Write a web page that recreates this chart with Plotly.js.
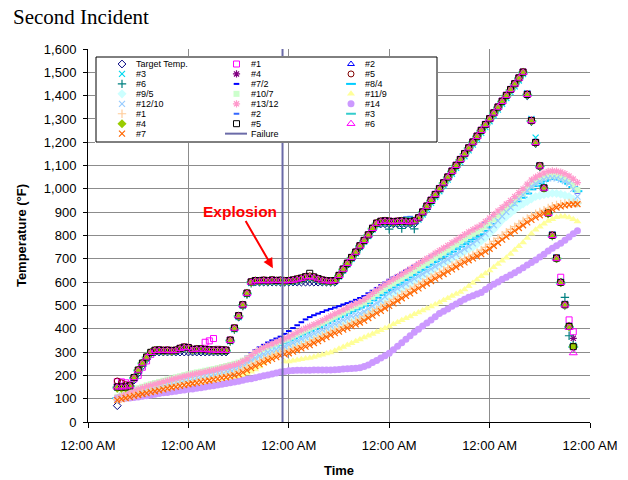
<!DOCTYPE html>
<html><head><meta charset="utf-8">
<script src="https://cdn.plot.ly/plotly-3.0.1.min.js"></script>
<style>html,body{margin:0;padding:0;background:#fff}#chart{width:628px;height:480px}</style>
</head><body><div id="chart"></div>
<script>
// ---------- time axis (hours since first midnight) ----------
const hours = [7,8,9,10,11,12,13,14,15,16,17,18,19,20,21,22,23,24,25,26,27,28,29,30,31,32,33,34,35,36,37,38,39,40,41,42,43,44,45,46,47,48,49,50,51,52,53,54,55,56,57,58,59,60,61,62,63,64,65,66,67,68,69,70,71,72,73,74,75,76,77,78,79,80,81,82,83,84,85,86,87,88,89,90,91,92,93,94,95,96,97,98,99,100,101,102,103,104,105,106,107,108,109,110,111,112,113,114,115,116,117];
const tickHours = [0,24,48,72,96,120];
const tickLabels = ['12:00 AM','12:00 AM','12:00 AM','12:00 AM','12:00 AM','12:00 AM'];
const failureTime = [46.5,46.5];
const failureTemp = [0,1600];

// ---------- furnace thermocouples (°F) ----------
const targetTemp = [70,150,150,152,180,210,240,270,295,300,
300,300,300,300,300,300,300,300,300,300,
300,300,300,300,300,300,300,350,400,450,
500,550,600,600,600,600,600,600,600,600,
600,600,600,600,600,600,600,600,600,600,
600,600,600,625,650,675,700,725,750,775,
800,825,850,850,850,850,850,850,850,850,
850,850,875,900,925,950,975,1000,1025,1050,
1075,1100,1125,1150,1175,1200,1225,1250,1275,1300,
1325,1350,1375,1400,1425,1450,1475,1500,1400,1290,
1195,1095,1000,895,800,700,600,500,410,320];
const tc1 = [173,172,168,160,185,200,235,262,290,306,
309,307,309,306,308,316,322,320,312,313,
314,342,348,358,312,309,308,352,404,457,
503,553,601,607,606,608,606,609,607,608,
606,607,609,613,617,623,625,622,615,609,
606,605,607,629,656,682,706,729,757,779,
803,832,853,861,864,862,860,862,864,861,
860,863,876,902,927,952,977,1002,1027,1052,
1077,1102,1127,1152,1177,1202,1227,1252,1277,1302,
1327,1352,1377,1402,1427,1452,1477,1502,1408,1295,
1200,1100,1005,898,803,705,621,505,438,387];
const tc2 = [150,150,150,156,192,224,254,280,300,308,
309,307,308,306,308,316,321,319,311,313,
313,311,310,309,308,309,308,351,403,456,
503,553,601,607,606,608,606,609,607,608,
606,607,609,613,617,623,625,622,615,609,
606,605,607,629,656,681,706,729,756,779,
803,831,853,861,863,861,859,861,863,861,
859,863,876,901,926,951,976,1001,1026,1051,
1076,1101,1126,1151,1176,1201,1226,1251,1276,1301,
1326,1351,1376,1401,1426,1451,1476,1501,1406,1293,
1199,1099,1004,896,801,703,599,503,410,325];
const tc3 = [148,148,149,153,188,220,250,276,296,305,
306,304,305,303,305,313,318,316,308,310,
310,308,307,306,305,306,305,346,398,450,
498,548,596,603,602,604,602,605,603,604,
602,603,605,609,613,619,621,618,611,605,
602,601,603,624,650,675,700,723,750,773,
797,825,847,856,858,856,854,856,858,856,
854,858,868,890,914,940,965,990,1015,1040,
1065,1090,1115,1140,1165,1190,1215,1240,1265,1290,
1315,1340,1365,1390,1415,1440,1465,1492,1410,1300,
1220,1100,1008,898,805,706,602,506,412,328];
const tc4 = [152,152,151,156,191,223,253,279,299,308,
309,307,308,306,308,316,321,319,311,313,
313,311,310,309,308,309,308,351,403,456,
503,553,601,607,606,608,606,609,607,608,
606,607,609,613,617,623,625,622,615,609,
606,605,607,629,656,681,706,729,756,779,
803,831,853,861,863,861,859,861,863,861,
859,863,876,901,926,951,976,1001,1026,1051,
1076,1101,1126,1151,1176,1201,1226,1251,1276,1301,
1326,1351,1376,1401,1426,1451,1476,1501,1406,1293,
1199,1099,1004,896,801,703,599,503,412,359];
const tc5 = [176,168,160,158,192,224,254,280,300,309,
310,308,309,307,309,317,322,320,312,314,
314,312,311,310,309,310,309,352,404,457,
504,554,602,608,607,609,607,610,608,609,
607,608,610,614,618,624,626,623,616,610,
607,606,608,630,657,682,707,730,757,780,
804,832,854,862,864,862,860,862,864,862,
860,864,877,902,927,952,977,1002,1027,1052,
1077,1102,1127,1152,1177,1202,1227,1252,1277,1302,
1327,1352,1377,1402,1427,1452,1477,1502,1407,1294,
1200,1100,1005,897,802,704,600,504,411,326];
const tc6 = [146,146,147,152,186,218,248,274,294,303,
304,302,303,301,303,311,316,314,306,308,
308,306,305,304,303,304,303,345,397,450,
497,547,595,601,600,602,600,603,601,602,
600,601,603,607,611,617,619,616,609,603,
600,599,601,622,648,674,698,722,748,771,
795,822,845,852,854,827,850,852,830,852,
850,828,866,888,912,938,962,988,1014,1040,
1066,1092,1118,1143,1168,1193,1218,1243,1268,1293,
1318,1343,1368,1393,1418,1443,1468,1494,1400,1288,
1194,1094,1000,893,798,700,597,535,370,330];

// ---------- specimen thermocouples (°F) ----------
const sp7_2 = [103,110,117,124,131,138,144,150,155,160,
165,170,175,180,185,189,194,198,202,206,
209,213,217,220,224,229,234,240,247,255,
267,280,295,308,320,331,341,350,358,366,
378,390,403,415,428,440,450,458,465,472,
479,485,491,497,504,510,516,524,532,540,
552,563,575,587,598,610,620,630,640,650,
660,670,680,690,700,710,721,731,742,752,
763,774,786,797,808,818,829,840,855,868,
882,896,910,925,940,956,972,988,1005,1022,
1036,1047,1055,1060,1061,1058,1052,1042,1030,1008,
984];
const sp8_4 = [102,108,114,120,126,132,138,143,148,153,
158,163,168,173,177,181,186,190,194,198,
202,206,210,213,217,221,225,230,236,242,
250,260,272,284,294,303,311,318,324,330,
339,348,357,366,375,383,391,399,407,415,
424,433,442,450,458,467,475,483,491,499,
510,522,533,544,555,566,577,588,598,609,
620,631,642,653,664,675,686,697,708,719,
730,741,752,763,774,784,795,805,820,835,
850,865,880,896,912,928,945,962,980,998,
1012,1024,1034,1042,1045,1044,1040,1032,1022,1008,
990];
const sp9_5 = [100,105,110,115,120,125,130,135,140,145,
150,155,159,163,167,171,175,179,183,187,
191,195,199,203,207,211,215,220,225,231,
239,248,259,270,279,286,293,299,304,309,
316,323,330,337,344,351,358,365,372,379,
386,394,401,408,416,424,432,440,448,456,
468,480,492,504,520,537,548,559,570,581,
592,603,614,625,636,647,658,669,680,690,
700,710,720,730,740,750,763,776,790,808,
826,846,866,881,896,910,924,935,946,957,
967,971,975,978,981,980,977,972,967,955,
938];
const sp10_7 = [108,116,124,131,138,145,151,157,162,167,
172,177,182,187,192,196,201,205,209,213,
216,220,224,227,231,236,240,245,250,255,
263,272,284,296,305,313,321,328,335,342,
350,357,366,375,384,392,400,408,416,424,
433,442,451,460,469,478,488,496,504,512,
524,537,550,562,573,584,595,606,616,627,
638,649,661,672,683,694,706,717,728,739,
751,762,774,786,797,807,816,826,840,855,
870,885,900,915,930,947,964,980,998,1015,
1028,1040,1048,1055,1058,1056,1050,1042,1030,1012,
995];
const sp11_9 = [98,100,102,104,107,110,113,116,119,122,
125,128,131,135,138,142,145,148,151,154,
157,160,164,167,171,174,178,182,187,192,
200,208,216,225,238,252,266,280,295,310,
259,260,263,266,269,272,275,279,284,289,
294,298,306,314,322,330,338,346,354,362,
370,378,386,394,402,410,419,428,436,445,
453,462,470,478,487,495,504,513,522,531,
540,549,558,568,582,596,610,625,637,650,
664,678,692,705,721,738,754,770,789,807,
825,838,850,862,870,878,882,882,877,870,
860];
const sp12_10 = [100,106,112,118,124,129,134,139,144,149,
154,159,163,167,171,175,179,183,187,191,
195,199,203,207,211,215,219,224,229,235,
243,252,263,274,283,291,298,304,310,316,
324,332,340,348,356,364,372,380,388,396,
404,412,421,429,438,446,455,460,466,474,
486,498,510,521,537,552,562,572,583,593,
604,614,625,635,646,656,667,677,688,698,
709,720,731,742,753,766,779,792,808,825,
844,863,882,901,920,938,956,974,992,1010,
1022,1032,1040,1045,1046,1045,1040,1033,1024,1000,
967];
const sp13_12 = [105,112,119,126,133,140,146,152,157,162,
167,172,177,182,187,191,196,200,204,208,
211,215,219,222,226,231,235,240,245,250,
260,270,285,300,310,320,328,335,343,350,
358,365,375,385,394,402,410,418,426,435,
445,455,464,472,481,490,500,508,516,525,
538,552,565,578,590,602,613,624,634,645,
656,667,679,690,701,712,724,735,746,757,
769,780,792,804,815,825,835,845,860,875,
890,905,920,935,950,967,984,1000,1020,1038,
1050,1060,1068,1075,1077,1076,1072,1065,1055,1042,
1027];
const sp14 = [100,101,102,103,105,107,110,113,116,119,
122,125,127,130,132,135,137,140,142,145,
147,150,153,156,159,162,165,168,172,175,
179,183,186,190,194,198,202,206,210,214,
217,220,221,222,222,222,222,223,223,223,
223,223,224,225,227,228,230,231,233,238,
245,255,264,274,284,295,310,325,340,355,
370,385,398,412,425,438,452,465,475,485,
496,506,517,527,535,542,549,556,568,580,
591,601,612,621,631,640,651,662,673,684,
695,708,720,733,745,756,767,780,794,807,
820];

// ---------- second thermocouple set (°F) ----------
const b1 = [96,101,106,111,116,121,125,129,133,137,
141,146,150,154,158,162,166,169,173,176,
180,183,186,190,193,197,201,205,210,218,
227,236,246,254,262,270,277,284,291,296,
301,308,315,322,329,336,345,353,362,370,
379,387,394,402,409,417,425,433,441,452,
462,473,483,494,504,515,526,537,547,558,
569,579,590,600,611,621,631,641,651,661,
671,681,691,700,708,717,726,737,749,762,
775,788,801,814,826,838,850,862,873,884,
893,901,909,918,926,931,935,938,940,941,
940];
const b2 = [151,151,151,156,191,223,253,279,299,308,
309,307,308,306,308,316,321,319,311,313,
313,311,310,309,308,309,308,351,403,456,
503,553,601,607,606,608,606,609,607,608,
606,607,609,613,617,623,625,622,615,609,
606,605,607,629,656,681,706,729,756,779,
803,831,853,861,863,861,859,861,863,878,
880,863,876,901,926,951,976,1001,1026,1051,
1076,1101,1126,1151,1176,1201,1226,1251,1276,1301,
1326,1351,1376,1401,1426,1451,1476,1501,1406,1293,
1199,1099,1004,896,801,703,599,503,410,324];
const b3 = [148,148,149,154,189,221,251,277,297,306,
307,305,306,304,306,314,319,317,309,311,
311,309,308,307,306,307,306,349,401,454,
501,551,599,605,604,606,604,607,605,606,
604,605,607,611,615,621,623,620,613,607,
604,603,605,627,654,679,704,727,754,777,
801,829,851,859,861,859,857,859,861,874,
876,861,874,899,924,949,974,999,1024,1049,
1074,1099,1124,1149,1174,1199,1224,1249,1274,1299,
1324,1349,1374,1399,1424,1449,1474,1499,1404,1291,
1197,1097,1002,894,799,701,597,501,408,322];
const b4 = [145,145,146,155,190,222,252,278,298,307,
308,306,307,305,307,315,320,318,310,312,
312,310,309,308,307,308,307,350,402,455,
502,552,600,606,605,607,605,608,606,607,
605,606,608,612,616,622,624,621,614,608,
605,604,606,628,655,680,705,728,755,778,
802,830,852,860,862,860,858,860,862,860,
858,862,875,900,925,950,975,1000,1025,1050,
1075,1100,1125,1150,1175,1200,1225,1250,1275,1300,
1325,1350,1375,1400,1425,1450,1475,1500,1405,1292,
1198,1098,1003,895,800,702,598,502,409,323];
const b5 = [150,150,150,155,191,223,253,279,299,308,
309,307,308,306,308,316,321,319,311,313,
313,311,310,309,308,309,308,351,403,456,
503,553,601,607,606,608,606,609,607,608,
606,607,609,613,617,623,638,622,615,609,
606,605,607,629,656,681,706,729,756,779,
803,831,853,861,863,861,859,861,863,861,
859,863,876,901,926,951,976,1001,1026,1051,
1076,1101,1126,1151,1176,1201,1226,1251,1276,1301,
1326,1351,1376,1401,1426,1451,1476,1501,1405,1293,
1199,1099,1004,896,801,703,599,503,410,323];
const b6 = [149,149,150,154,189,221,251,277,297,306,
307,305,306,304,306,314,319,317,309,311,
311,309,308,307,306,307,306,349,401,454,
501,551,599,605,604,606,604,607,605,606,
604,605,607,611,615,621,623,620,613,607,
604,603,605,627,654,679,704,727,754,777,
801,829,851,859,861,859,857,859,861,859,
857,861,874,899,924,949,974,999,1024,1049,
1074,1099,1124,1149,1174,1199,1224,1249,1274,1299,
1324,1349,1374,1399,1424,1449,1474,1499,1404,1291,
1197,1097,1002,894,799,701,597,501,405,296];
const b7 = [94,98,103,107,112,116,120,124,128,132,
136,140,144,148,151,155,158,162,165,168,
172,175,178,182,185,189,192,196,200,205,
213,222,231,240,248,256,264,271,278,285,
290,295,302,309,316,323,330,339,347,356,
364,373,381,388,396,403,411,419,427,435,
446,456,467,477,488,498,509,520,531,541,
552,563,573,584,594,605,615,625,635,645,
655,665,675,685,694,702,711,720,731,743,
756,769,782,795,808,820,832,844,856,867,
878,887,895,903,912,920,925,929,932,934,
935];

const seriesNames = ['Target Temp.','#1','#2','#3','#4','#5','#6','#7/2','#8/4','#9/5','#10/7','#11/9','#12/10','#13/12','#14','#1','#2','#3','#4','#5','#6','#7'];
const seriesValues = [targetTemp,tc1,tc2,tc3,tc4,tc5,tc6,sp7_2,sp8_4,sp9_5,sp10_7,sp11_9,sp12_10,sp13_12,sp14,b1,b2,b3,b4,b5,b6,b7];

// ---------- styles ----------
const styles = [
 {s:'diamond-open',c:'#000080',z:6,w:1},
 {s:'square-open',c:'#FF00FF',z:6,w:1},
 {s:'triangle-up-open',c:'#0000FF',z:6,w:1},
 {s:'x-thin-open',c:'#00D8F0',z:6,w:1.2},
 {s:'asterisk-open',c:'#800080',z:6,w:1.2},
 {s:'circle-open',c:'#800000',z:6,w:1},
 {s:'cross-thin-open',c:'#008080',z:6,w:1.2},
 {s:'line-ew-open',c:'#0000FF',z:4,w:2},
 {s:'line-ew-open',c:'#00CCFF',z:7,w:2},
 {s:'diamond',c:'#CCFFFF',z:7,w:0},
 {s:'square',c:'#CCFFCC',z:6,w:0},
 {s:'triangle-up',c:'#FFFF99',z:7,w:0},
 {s:'x-thin-open',c:'#99CCFF',z:6,w:1.2},
 {s:'asterisk-open',c:'#FF99CC',z:6,w:1.2},
 {s:'circle',c:'#CC99FF',z:7,w:0},
 {s:'cross-thin-open',c:'#FFCC99',z:6,w:1.2},
 {s:'line-ew-open',c:'#3366FF',z:4,w:2},
 {s:'line-ew-open',c:'#33CCCC',z:7,w:2},
 {s:'diamond',c:'#99CC00',z:7,w:0},
 {s:'square-open',c:'#000000',z:6,w:1},
 {s:'triangle-up-open',c:'#FF00FF',z:7,w:1},
 {s:'x-thin-open',c:'#FF6600',z:6,w:1.2}
];
const failureColor = '#6B6BA8';
const FONT = 'Liberation Sans, Arial, sans-serif';

function markerOf(st){
  return {symbol:st.s, color:st.c, size:st.z, line:{color:st.c, width:st.w}};
}

const traces = [];
seriesNames.forEach((nm,i)=>{
  traces.push({type:'scatter', mode:'markers', name:nm, x:hours, y:seriesValues[i],
    marker:markerOf(styles[i]), showlegend:false, hoverinfo:'x+y+name', xaxis:'x', yaxis:'y'});
});
traces.push({type:'scatter', mode:'lines', name:'Failure', x:failureTime, y:failureTemp,
  line:{color:failureColor, width:2}, showlegend:false, xaxis:'x', yaxis:'y'});

// ---------- legend (drawn on an overlay axis pair, 1 unit = 1 px) ----------
const legW = 341, legH = 85;
traces.push({type:'scatter', mode:'lines', x:[0,legW,legW,0,0], y:[0,0,legH,legH,0],
  fill:'toself', fillcolor:'#FFFFFF', line:{color:'#000000', width:1},
  showlegend:false, hoverinfo:'skip', xaxis:'x2', yaxis:'y2'});
const legCol = i => 26 + (i % 3) * 114.5;
const legRow = i => 7 + Math.floor(i / 3) * 9.95;
const LEGFONT = {family:FONT, size:9, color:'#000'};
const annotations = [];
seriesNames.forEach((nm,i)=>{
  traces.push({type:'scatter', mode:'markers', x:[legCol(i)], y:[legRow(i)],
    marker:markerOf(styles[i]), showlegend:false, hoverinfo:'skip', xaxis:'x2', yaxis:'y2'});
  annotations.push({xref:'x2', yref:'y2', x:legCol(i)+13, y:legRow(i), text:nm,
    xanchor:'left', yanchor:'middle', showarrow:false, borderpad:0, font:LEGFONT});
});
const fi = seriesNames.length;
traces.push({type:'scatter', mode:'lines', x:[legCol(fi)-11.5, legCol(fi)+10.5], y:[legRow(fi), legRow(fi)],
  line:{color:failureColor, width:2}, showlegend:false, hoverinfo:'skip', xaxis:'x2', yaxis:'y2'});
annotations.push({xref:'x2', yref:'y2', x:legCol(fi)+13, y:legRow(fi), text:'Failure',
  xanchor:'left', yanchor:'middle', showarrow:false, borderpad:0, font:LEGFONT});

// Explosion callout
annotations.push({xref:'x', yref:'y', x:44.2, y:660, axref:'x', ayref:'y', ax:36.3, ay:905,
  text:'Explosion', showarrow:true, arrowhead:2, arrowsize:1, arrowwidth:2, arrowcolor:'#FF0000',
  standoff:0, font:{family:FONT, size:15.5, color:'#FF0000', weight:'bold'}});

const layout = {
  width:628, height:480,
  margin:{l:88, r:38, t:49, b:58},
  paper_bgcolor:'#FFFFFF', plot_bgcolor:'#FFFFFF',
  font:{family:FONT, color:'#000'},
  showlegend:false,
  title:{text:'Second Incident', font:{family:'Liberation Serif, Times New Roman, serif', size:21, color:'#000'},
    xref:'container', yref:'container', x:13/628, xanchor:'left', y:1-17/480, yanchor:'middle'},
  xaxis:{range:[0,120], tickmode:'array', tickvals:tickHours, ticktext:tickLabels,
    showgrid:true, gridcolor:'#8C8C8C', gridwidth:1, zeroline:false,
    showline:true, linecolor:'#000', linewidth:1, ticks:'outside', ticklen:5, tickcolor:'#000',
    ticklabelstandoff:6, tickfont:{family:FONT, size:13, color:'#000'},
    title:{text:'Time', standoff:14, font:{family:FONT, size:13, color:'#000', weight:'bold'}},
    fixedrange:true},
  yaxis:{range:[0,1600], tick0:0, dtick:100, tickformat:',d',
    showgrid:true, gridcolor:'#8C8C8C', gridwidth:1, zeroline:false,
    showline:true, linecolor:'#000', linewidth:1, ticks:'outside', ticklen:4, tickcolor:'#000',
    ticklabelstandoff:4, tickfont:{family:FONT, size:13, color:'#000'},
    title:{text:'Temperature (°F)', standoff:14, font:{family:FONT, size:13, color:'#000', weight:'bold'}},
    fixedrange:true},
  xaxis2:{domain:[7/502, 350/502], range:[-1,342], visible:false, anchor:'y2', fixedrange:true},
  yaxis2:{domain:[(422-143)/373, (422-56)/373], range:[86,-1], visible:false, anchor:'x2', fixedrange:true},
  annotations:annotations
};

Plotly.newPlot('chart', traces, layout, {displayModeBar:false, responsive:false});
</script>
</body></html>
